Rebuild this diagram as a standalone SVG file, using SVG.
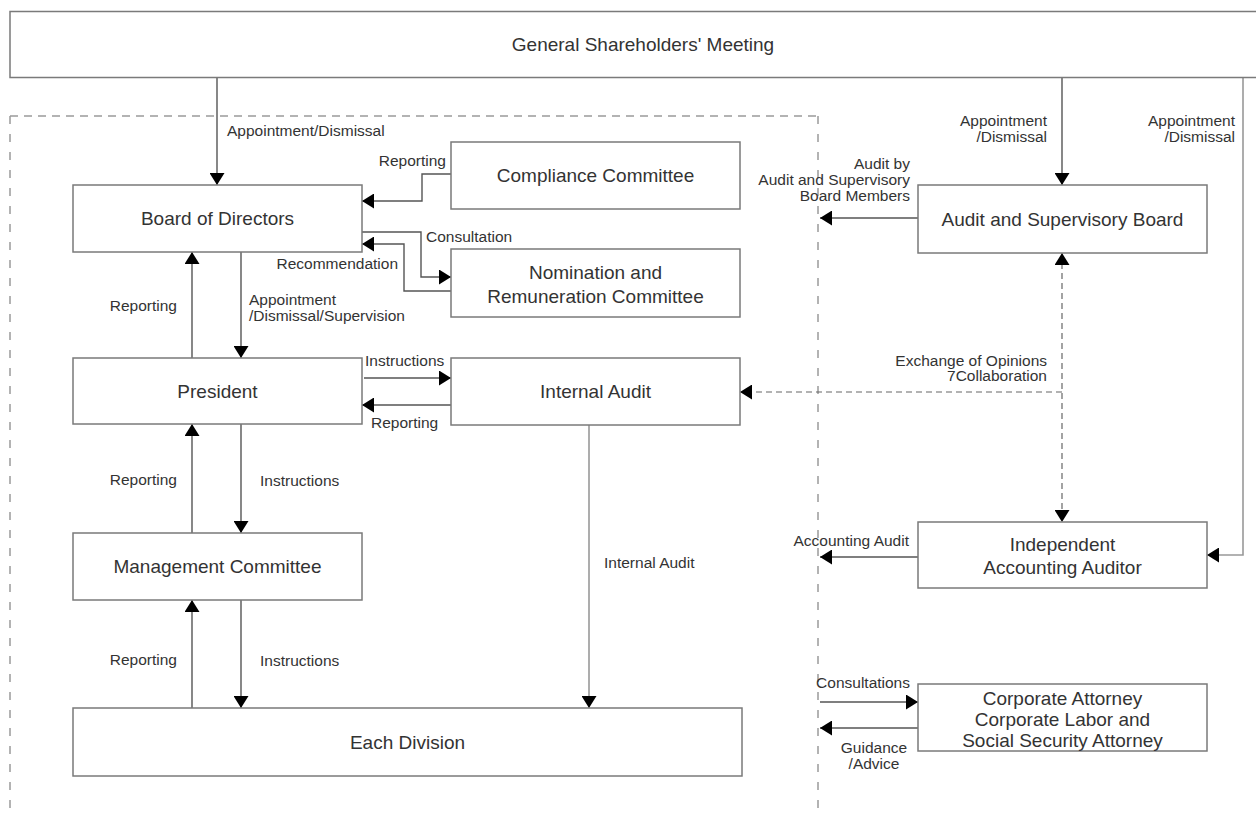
<svg xmlns="http://www.w3.org/2000/svg" width="1256" height="818" viewBox="0 0 1256 818">
<style>
.box{fill:#fff;stroke:#7a7a7a;stroke-width:1.5}
.nt{font-family:"Liberation Sans",Arial,sans-serif;font-size:19px;fill:#333;text-anchor:middle}
.lb{font-family:"Liberation Sans",Arial,sans-serif;font-size:15.5px;fill:#333}
.e{text-anchor:end}
.m{text-anchor:middle}
.ln{fill:none;stroke:#555;stroke-width:1.4}
.lg{fill:none;stroke:#999;stroke-width:1.6}
.ld{fill:none;stroke:#666;stroke-width:1.2;stroke-dasharray:6 4}
.bd{fill:none;stroke:#9a9a9a;stroke-width:1.5}
</style>
<defs>
<marker id="ah" markerUnits="userSpaceOnUse" markerWidth="13" markerHeight="15" refX="12" refY="7.5" orient="auto-start-reverse" viewBox="0 0 13 15">
<path d="M0,0 L12,7.5 L0,15 z" fill="#000"/>
</marker>
</defs>
<rect width="1256" height="818" fill="#fff"/>
<g id="boundary">
<path class="bd" d="M10,116 H818" stroke-dasharray="8 6"/>
<path class="bd" d="M10,116 V818 M818,116 V818" stroke-dasharray="8 10"/>
</g>
<g id="connectors">
<path class="ln" d="M217,77 V185" marker-end="url(#ah)"/>
<path class="ln" d="M451,174 H422 V201 H362" marker-end="url(#ah)"/>
<path class="ln" d="M362,232 H421 V277 H451" marker-end="url(#ah)"/>
<path class="ln" d="M451,291 H404 V244 H362" marker-end="url(#ah)"/>
<path class="ln" d="M192,358 V252" marker-end="url(#ah)"/>
<path class="ln" d="M241,252 V358" marker-end="url(#ah)"/>
<path class="ln" d="M364,378 H451" marker-end="url(#ah)"/>
<path class="ln" d="M451,405 H362" marker-end="url(#ah)"/>
<path class="ln" d="M192,533 V424" marker-end="url(#ah)"/>
<path class="ln" d="M241,424 V533" marker-end="url(#ah)"/>
<path class="ln" d="M192,708 V600" marker-end="url(#ah)"/>
<path class="ln" d="M241,600 V708" marker-end="url(#ah)"/>
<path class="lg" d="M589,425 V708" marker-end="url(#ah)"/>
<path class="ln" d="M1062,77 V185" marker-end="url(#ah)"/>
<path class="lg" d="M1243,77 V555 H1207" marker-end="url(#ah)"/>
<path class="ln" d="M918,218 H820" marker-end="url(#ah)"/>
<path class="ld" d="M1062,253 V522" marker-start="url(#ah)" marker-end="url(#ah)"/>
<path class="ld" d="M1062,392 H740" marker-end="url(#ah)"/>
<path class="ln" d="M918,557 H820" marker-end="url(#ah)"/>
<path class="ln" d="M820,702 H918" marker-end="url(#ah)"/>
<path class="ln" d="M918,728 H820" marker-end="url(#ah)"/>
<text class="lb" x="227" y="136">Appointment/Dismissal</text>
<text class="lb e" x="446" y="166">Reporting</text>
<text class="lb" x="426" y="242">Consultation</text>
<text class="lb e" x="398" y="269">Recommendation</text>
<text class="lb e" x="177" y="311">Reporting</text>
<text class="lb" x="249" y="305">Appointment</text>
<text class="lb" x="249" y="321">/Dismissal/Supervision</text>
<text class="lb" x="365" y="366">Instructions</text>
<text class="lb" x="371" y="428">Reporting</text>
<text class="lb e" x="177" y="485">Reporting</text>
<text class="lb" x="260" y="486">Instructions</text>
<text class="lb e" x="177" y="665">Reporting</text>
<text class="lb" x="260" y="666">Instructions</text>
<text class="lb" x="604" y="568">Internal Audit</text>
<text class="lb e" x="1047" y="126">Appointment</text>
<text class="lb e" x="1047" y="142">/Dismissal</text>
<text class="lb e" x="1235" y="126">Appointment</text>
<text class="lb e" x="1235" y="142">/Dismissal</text>
<text class="lb e" x="910" y="169">Audit by</text>
<text class="lb e" x="910" y="185">Audit and Supervisory</text>
<text class="lb e" x="910" y="201">Board Members</text>
<text class="lb e" x="1047" y="366">Exchange of Opinions</text>
<text class="lb e" x="1047" y="381">7Collaboration</text>
<text class="lb e" x="909" y="546">Accounting Audit</text>
<text class="lb e" x="910" y="688">Consultations</text>
<text class="lb m" x="874" y="753">Guidance</text>
<text class="lb m" x="874" y="769">/Advice</text>
</g>
<g id="gsm">
<rect class="box" x="10" y="11.5" width="1260" height="66"/>
<text class="nt" x="643" y="51">General Shareholders' Meeting</text>
</g>
<g id="bod">
<rect class="box" x="73" y="185" width="289" height="67"/>
<text class="nt" x="217.5" y="225">Board of Directors</text>
</g>
<g id="compliance">
<rect class="box" x="451" y="142" width="289" height="67"/>
<text class="nt" x="595.5" y="182">Compliance Committee</text>
</g>
<g id="nomination">
<rect class="box" x="451" y="249" width="289" height="68"/>
<text class="nt" x="595.5" y="279">Nomination and</text>
<text class="nt" x="595.5" y="303">Remuneration Committee</text>
</g>
<g id="president">
<rect class="box" x="73" y="358" width="289" height="66"/>
<text class="nt" x="217.5" y="398">President</text>
</g>
<g id="internal-audit">
<rect class="box" x="451" y="358" width="289" height="67"/>
<text class="nt" x="595.5" y="398">Internal Audit</text>
</g>
<g id="management">
<rect class="box" x="73" y="533" width="289" height="67"/>
<text class="nt" x="217.5" y="573">Management Committee</text>
</g>
<g id="division">
<rect class="box" x="73" y="708" width="669" height="68"/>
<text class="nt" x="407.5" y="749">Each Division</text>
</g>
<g id="audit-board">
<rect class="box" x="918" y="185" width="289" height="68"/>
<text class="nt" x="1062.5" y="226">Audit and Supervisory Board</text>
</g>
<g id="accounting-auditor">
<rect class="box" x="918" y="522" width="289" height="66"/>
<text class="nt" x="1062.5" y="551">Independent</text>
<text class="nt" x="1062.5" y="574">Accounting Auditor</text>
</g>
<g id="attorney">
<rect class="box" x="918" y="684" width="289" height="67"/>
<text class="nt" x="1062.5" y="705">Corporate Attorney</text>
<text class="nt" x="1062.5" y="726">Corporate Labor and</text>
<text class="nt" x="1062.5" y="747">Social Security Attorney</text>
</g>
</svg>
